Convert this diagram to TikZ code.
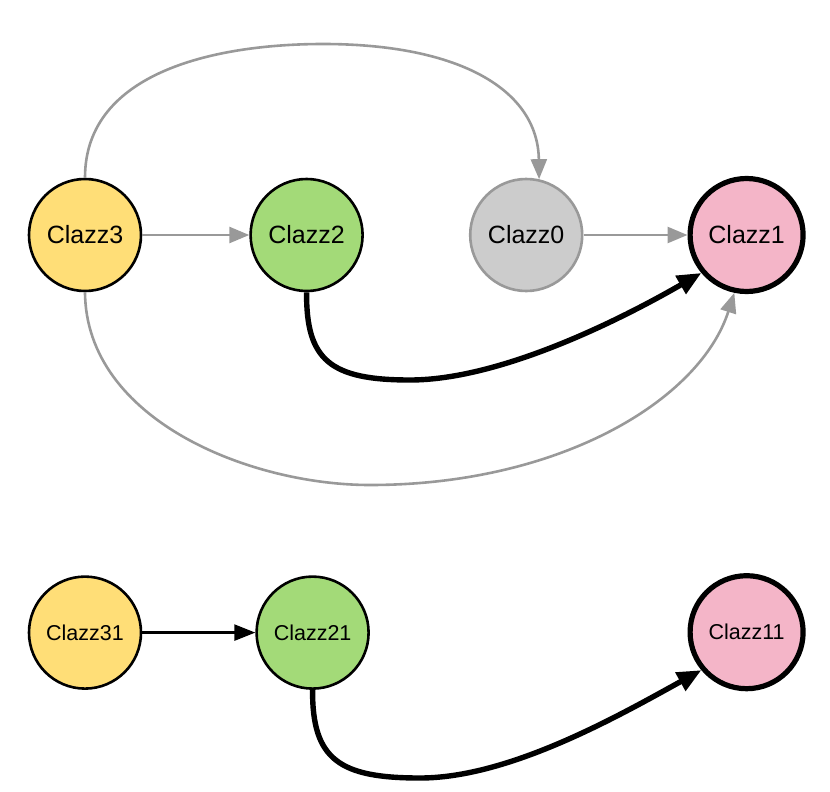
\documentclass[tikz,border=0pt]{standalone}
\usepackage{fontspec}
\setmainfont{Liberation Sans}
\usepackage{tikz}
\usetikzlibrary{arrows.meta,positioning}
\definecolor{ClazzYellow}{HTML}{FFDE77}
\definecolor{ClazzGreen}{HTML}{A3DA78}
\definecolor{ClazzGray}{HTML}{CCCCCC}
\definecolor{ClazzPink}{HTML}{F4B5C8}
\definecolor{EdgeGray}{HTML}{999999}
\tikzset{
  clazz/.style={
    circle,
    draw=black,
    line width=2.6pt,
    minimum size=112pt,
    inner sep=0pt,
    font=\fontsize{25}{29}\selectfont
  },
  smallfont/.style={font=\fontsize{21.5}{25}\selectfont},
  yellowclazz/.style={clazz, fill=ClazzYellow},
  greenclazz/.style={clazz, fill=ClazzGreen},
  grayclazz/.style={clazz, fill=ClazzGray, draw=EdgeGray},
  pinkclazz/.style={clazz, fill=ClazzPink, line width=5.2pt, minimum size=113pt},
  light/.style={-{Triangle[length=20pt,width=16pt]}, line width=2.6pt, draw=EdgeGray},
  plainarrow/.style={-{Triangle[length=21pt,width=16pt]}, line width=2.6pt, draw=black},
  heavy/.style={-{Triangle[length=24pt,width=20pt]}, line width=5.4pt, draw=black}
}
\begin{document}
\begin{tikzpicture}[x=1pt,y=-1pt]
  \useasboundingbox (0,0) rectangle (830,792);

  % upper graph
  \node[yellowclazz] (c3) at (85,235) {Clazz3};
  \node[greenclazz, right=107pt of c3] (c2) {Clazz2};
  \node[grayclazz, right=105pt of c2] (c0) {Clazz0};
  \node[pinkclazz, right=104pt of c0] (c1) {Clazz1};

  % lower graph
  \node[yellowclazz, smallfont, below=283pt of c3] (c31) {Clazz31};
  \node[greenclazz, smallfont, right=113pt of c31] (c21) {Clazz21};
  \node[pinkclazz, smallfont, below=279pt of c1] (c11) {Clazz11};

  \draw[light] (c3) -- (c2);
  \draw[light] (c0) -- (c1);
  \draw[light] (c3.north) .. controls (85,70) and (220,44) .. (323,44)
    .. controls (460,44) and (538,90) .. (c0.77);
  \draw[light] (c3.south) .. controls (86,420) and (250,485) .. (370,485)
    .. controls (560,485) and (700,400) .. (c1.-102);
  \draw[heavy] (c2.south) .. controls (306,360) and (330,380) .. (410,380)
    .. controls (500,380) and (620,320) .. (c1.220);

  \draw[plainarrow] (c31) -- (c21);
  \draw[heavy] (c21.south) .. controls (312,760) and (340,778) .. (420,778)
    .. controls (510,778) and (620,715) .. (c11.220);
\end{tikzpicture}
\end{document}
